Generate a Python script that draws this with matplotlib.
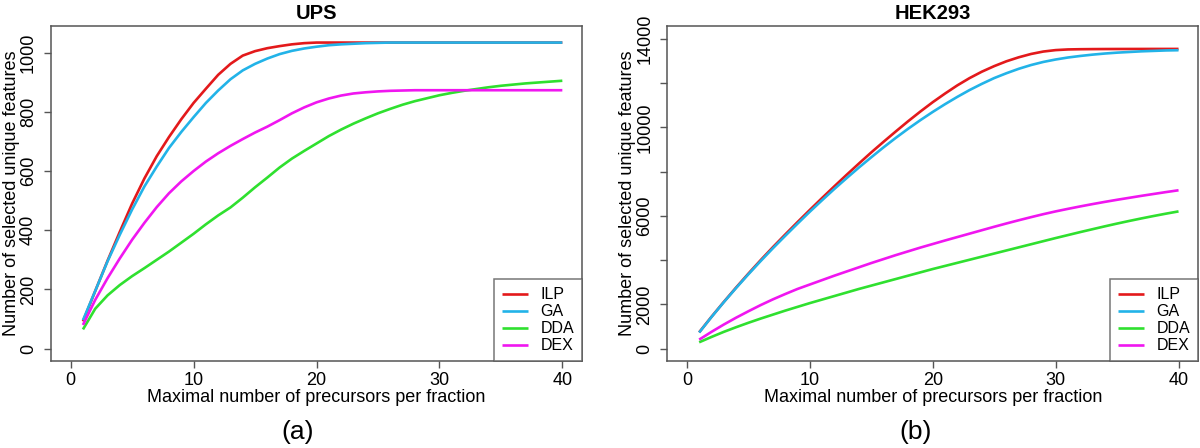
import numpy as np
import matplotlib
matplotlib.use("Agg")
import matplotlib.pyplot as plt

plt.rcParams['font.family'] = ['Liberation Sans', 'DejaVu Sans']

# x axis: maximal number of precursors per fraction
n_prec = list(range(1, 41))

# UPS panel
ups_ilp = [92, 195, 297, 395, 490, 575, 650, 715, 775, 830,
           878, 925, 962, 990, 1005, 1015, 1022, 1028, 1032, 1034,
           1034, 1034, 1034, 1034, 1034, 1034, 1034, 1034, 1034, 1034,
           1034, 1034, 1034, 1034, 1034, 1034, 1034, 1034, 1034, 1034]
ups_ga = [96, 195, 295, 385, 470, 548, 615, 678, 732, 782,
          830, 872, 910, 940, 962, 980, 995, 1006, 1014, 1020,
          1025, 1028, 1030, 1032, 1033, 1034, 1034, 1034, 1034, 1034,
          1034, 1034, 1034, 1034, 1034, 1034, 1034, 1034, 1034, 1034]
ups_dda = [65, 135, 180, 215, 245, 272, 300, 328, 358, 388,
           420, 450, 477, 510, 545, 578, 612, 642, 668, 693,
           718, 740, 760, 778, 795, 810, 824, 836, 846, 856,
           864, 871, 877, 883, 888, 892, 896, 899, 902, 905]
ups_dex = [80, 165, 238, 305, 368, 425, 478, 525, 565, 600,
           632, 660, 685, 708, 730, 750, 772, 795, 815, 832,
           845, 855, 862, 866, 869, 871, 872, 873, 873, 873,
           873, 873, 873, 873, 873, 873, 873, 873, 873, 873]

# HEK293 panel
hek_ilp = [740, 1440, 2110, 2760, 3390, 4000, 4590, 5160, 5720, 6270,
           6810, 7340, 7860, 8370, 8870, 9350, 9820, 10280, 10720, 11140,
           11530, 11900, 12230, 12520, 12770, 12990, 13170, 13320, 13430, 13495,
           13525, 13535, 13540, 13543, 13545, 13546, 13547, 13548, 13548, 13548]
hek_ga = [730, 1430, 2100, 2740, 3360, 3960, 4540, 5100, 5650, 6190,
          6710, 7220, 7710, 8190, 8650, 9100, 9530, 9940, 10330, 10700,
          11050, 11380, 11690, 11970, 12230, 12450, 12650, 12820, 12960, 13070,
          13160, 13230, 13290, 13340, 13380, 13410, 13440, 13460, 13480, 13490]
hek_dda = [290, 530, 760, 970, 1170, 1360, 1540, 1720, 1890, 2060,
           2220, 2380, 2540, 2700, 2850, 3000, 3150, 3300, 3450, 3600,
           3740, 3880, 4020, 4160, 4300, 4440, 4580, 4720, 4860, 5000,
           5135, 5270, 5400, 5530, 5655, 5775, 5890, 6000, 6105, 6205]
hek_dex = [410, 760, 1090, 1400, 1690, 1970, 2230, 2470, 2700, 2900,
           3100, 3300, 3490, 3680, 3870, 4050, 4230, 4400, 4570, 4730,
           4890, 5045, 5200, 5355, 5510, 5660, 5805, 5945, 6080, 6205,
           6320, 6430, 6535, 6635, 6730, 6820, 6910, 6995, 7080, 7160]

method_names = ['ILP', 'GA', 'DDA', 'DEX']
method_colors = ['#e3191b', '#22b3e8', '#2fe02f', '#f016f0']

x_ticks = [0, 10, 20, 30, 40]
ups_yticks = [0, 200, 400, 600, 800, 1000]
hek_yticks = [0, 2000, 4000, 6000, 8000, 10000, 12000, 14000]
hek_ylabels = ['0', '2000', '', '6000', '', '10000', '', '14000']

fig = plt.figure(figsize=(12, 4.48), dpi=100)
axL = fig.add_axes([0.0425, 0.194, 0.4425, 0.748])
axR = fig.add_axes([0.556, 0.194, 0.4425, 0.748])


def drawPanel(ax, series, title, yticks, ylabels, ylim, tag, tag_x):
    for vals, name, col in zip(series, method_names, method_colors):
        ax.plot(n_prec, vals, color=col, lw=1.9, label=name,
                solid_capstyle='butt')
    ax.set_xlim(-1.6, 41.6)
    ax.set_ylim(*ylim)
    ax.set_xticks(x_ticks)
    ax.set_yticks(yticks)
    ax.set_yticklabels(ylabels, rotation=90, va='center')
    ax.tick_params(axis='both', length=5, width=1.0, color='#555555',
                   labelsize=13, direction='out')
    ax.tick_params(axis='x', pad=3)
    ax.tick_params(axis='y', pad=5)
    for sp in ax.spines.values():
        sp.set_color('#555555')
        sp.set_linewidth(1.1)
    ax.set_title(title, fontsize=14.5, fontweight='bold', pad=5)
    ax.set_xlabel('Maximal number of precursors per fraction', fontsize=13)
    ax.xaxis.label.set_va('center')
    ax.xaxis.set_label_coords(0.5, -0.108)
    ax.set_ylabel('Number of selected unique features', fontsize=13)
    ax.yaxis.label.set_va('center')
    ax.yaxis.set_label_coords(-0.074, 0.5)
    leg = ax.legend(loc='lower right', borderaxespad=0, fancybox=False,
                    fontsize=11.5, handlelength=1.6, handletextpad=0.8,
                    labelspacing=0.12, borderpad=0.5)
    leg.get_frame().set_edgecolor('#555555')
    leg.get_frame().set_linewidth(1.1)
    fig.text(tag_x, 0.036, tag, fontsize=19, ha='center', va='center')


drawPanel(axL, [ups_ilp, ups_ga, ups_dda, ups_dex], 'UPS',
          ups_yticks, [str(t) for t in ups_yticks], (-42, 1090), '(a)', 0.248)
drawPanel(axR, [hek_ilp, hek_ga, hek_dda, hek_dex], 'HEK293',
          hek_yticks, hek_ylabels, (-560, 14585), '(b)', 0.763)

fig.savefig('out.png', dpi=100)
